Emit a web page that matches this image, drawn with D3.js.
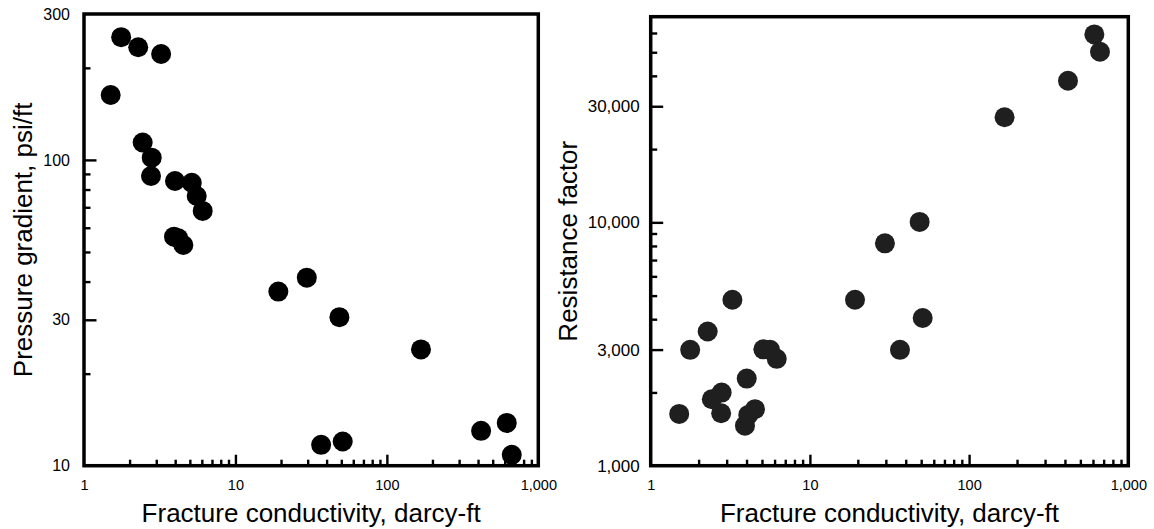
<!DOCTYPE html>
<html>
<head>
<meta charset="utf-8">
<script src="https://cdn.jsdelivr.net/npm/d3@7"></script>
<style>
  html, body { margin: 0; padding: 0; background: #fff; }
  svg { display: block; }
</style>
</head>
<body>
<svg id="chart" width="1154" height="529"></svg>
<script>
// ---------- Data ----------
// Left panel: pressure gradient vs fracture conductivity
const leftConductivity = [1.50, 1.76, 2.28, 3.23, 2.44, 2.80, 2.77, 3.99, 5.15, 5.55, 6.08, 3.93, 4.20, 4.53,
                          19.2, 29.6, 48.6, 168, 36.8, 51.1, 419, 619, 668];
const pressureGradient = [163, 252, 233.5, 222, 114, 101.7, 88.6, 85.3, 84.2, 76.2, 68.1, 56.1, 55.4, 52.7,
                          37.1, 41.2, 30.6, 24.0, 11.7, 12.0, 13.0, 13.8, 10.85];

// Right panel: resistance factor vs fracture conductivity
const rightConductivity = [1.51, 1.77, 2.28, 3.26, 2.42, 2.79, 2.77, 4.01, 3.91, 4.10, 4.52, 5.10, 5.62, 6.19,
                           19.2, 29.6, 48.9, 36.8, 51.1, 167, 418, 612, 664];
const resistanceFactor = [1632, 2993, 3560, 4808, 1876, 1997, 1643, 2280, 1461, 1617, 1707, 3007, 2993, 2749,
                          4808, 8197, 10040, 2993, 4044, 27040, 38180, 59200, 50250];

// Axes / ticks
const xDomain = [1, 1000];
const xTickValues = [1, 10, 100, 1000];
const xTickLabels = ["1", "10", "100", "1,000"];
const xMajorTicks = [10, 100];
const xMinorTicks = [2, 3, 4, 5, 6, 7, 8, 9, 20, 30, 40, 50, 60, 70, 80, 90, 200, 300, 400, 500, 600, 700, 800, 900];

const leftYDomain = [10, 300];
const leftYTickValues = [10, 30, 100, 300];
const leftYTickLabels = ["10", "30", "100", "300"];
const leftYMajorTicks = [30, 100];
const leftYMinorTicks = [20, 40, 50, 60, 70, 80, 90, 200];

const rightYDomain = [1000, 70000];
const rightYTickValues = [1000, 3000, 10000, 30000];
const rightYTickLabels = ["1,000", "3,000", "10,000", "30,000"];
const rightYMajorTicks = [3000, 10000, 30000];
const rightYMinorTicks = [2000, 4000, 5000, 6000, 7000, 8000, 9000, 20000, 40000, 50000, 60000];

const xTitle = "Fracture conductivity, darcy-ft";
const leftYTitle = "Pressure gradient, psi/ft";
const rightYTitle = "Resistance factor";

// ---------- Drawing ----------
const svg = d3.select("#chart");
const FONT = "'Liberation Sans', Arial, Helvetica, sans-serif";

function panel(opts) {
  const { x0, x1, yTop, yBot, xs, ys, yDomain, yTickValues, yTickLabels, yMajor, yMinor,
          yTitle, yTitleX, dotColor, yLabelPad, yLabelSize } = opts;
  const g = svg.append("g");
  const x = d3.scaleLog().domain(xDomain).range([x0, x1]);
  const y = d3.scaleLog().domain(yDomain).range([yBot, yTop]);

  // minor / major ticks (inward)
  function ticks(axis, translate, vals, size) {
    const a = g.append("g").attr("transform", translate)
      .call(axis.tickValues(vals).tickSize(-size).tickFormat(""));
    a.select(".domain").remove();
    a.selectAll("line").attr("stroke", "#000").attr("stroke-width", 2.4);
  }
  ticks(d3.axisBottom(x), `translate(0,${yBot})`, xMinorTicks, 6);
  ticks(d3.axisBottom(x), `translate(0,${yBot})`, xMajorTicks, 11);
  ticks(d3.axisLeft(y), `translate(${x0},0)`, yMinor, 6.5);
  ticks(d3.axisLeft(y), `translate(${x0},0)`, yMajor, 12.5);

  // tick labels
  const xl = g.append("g").attr("transform", `translate(0,${yBot})`)
    .call(d3.axisBottom(x).tickValues(xTickValues).tickSize(0).tickPadding(14)
      .tickFormat((d, i) => xTickLabels[i]));
  xl.select(".domain").remove();
  xl.attr("font-family", FONT).attr("font-size", 14.5);
  xl.selectAll("text").attr("fill", "#000");

  const yl = g.append("g").attr("transform", `translate(${x0},0)`)
    .call(d3.axisLeft(y).tickValues(yTickValues).tickSize(0).tickPadding(yLabelPad)
      .tickFormat((d, i) => yTickLabels[i]));
  yl.select(".domain").remove();
  yl.attr("font-family", FONT).attr("font-size", yLabelSize);
  yl.selectAll("text").attr("fill", "#000");

  // dots
  g.append("g").selectAll("circle")
    .data(xs.map((v, i) => [v, ys[i]]))
    .join("circle")
    .attr("cx", d => x(d[0]))
    .attr("cy", d => y(d[1]))
    .attr("r", 10)
    .attr("fill", dotColor);

  // frame
  g.append("rect")
    .attr("x", x0).attr("y", yTop)
    .attr("width", x1 - x0).attr("height", yBot - yTop)
    .attr("fill", "none").attr("stroke", "#000").attr("stroke-width", 3.5);

  // axis titles
  g.append("text")
    .attr("x", (x0 + x1) / 2).attr("y", 522)
    .attr("text-anchor", "middle")
    .attr("font-family", FONT).attr("font-size", 26).attr("fill", "#000")
    .text(xTitle);

  g.append("text")
    .attr("transform", `translate(${yTitleX},${(yTop + yBot) / 2}) rotate(-90)`)
    .attr("text-anchor", "middle")
    .attr("font-family", FONT).attr("font-size", 26).attr("fill", "#000")
    .text(yTitle);
}

panel({
  x0: 84, x1: 538.3, yTop: 14, yBot: 465.7,
  xs: leftConductivity, ys: pressureGradient,
  yDomain: leftYDomain, yTickValues: leftYTickValues, yTickLabels: leftYTickLabels,
  yMajor: leftYMajorTicks, yMinor: leftYMinorTicks,
  yTitle: leftYTitle, yTitleX: 32, dotColor: "#000", yLabelPad: 14, yLabelSize: 16
});

panel({
  x0: 650.7, x1: 1128.3, yTop: 16.7, yBot: 465.7,
  xs: rightConductivity, ys: resistanceFactor,
  yDomain: rightYDomain, yTickValues: rightYTickValues, yTickLabels: rightYTickLabels,
  yMajor: rightYMajorTicks, yMinor: rightYMinorTicks,
  yTitle: rightYTitle, yTitleX: 577, dotColor: "#1f1f1f", yLabelPad: 11, yLabelSize: 17
});
</script>
</body>
</html>
